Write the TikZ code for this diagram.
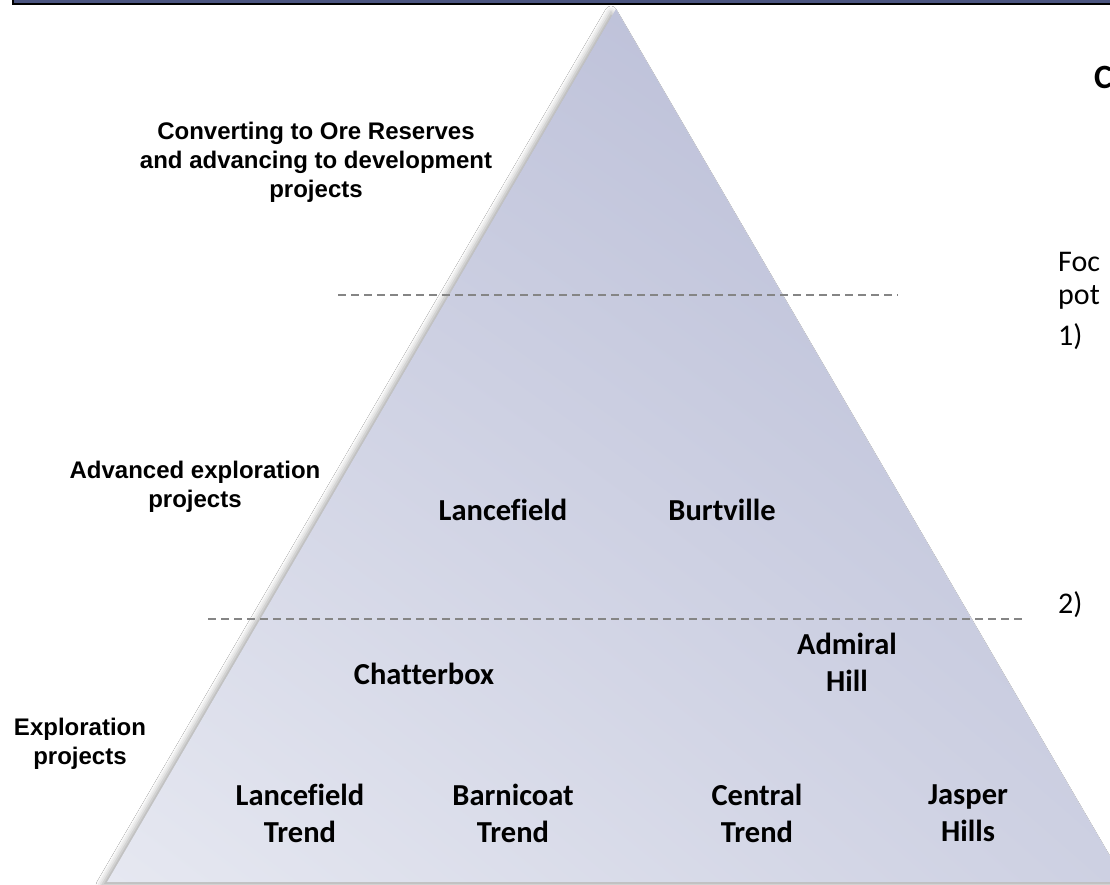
\documentclass[tikz,border=0pt]{standalone}
\usepackage{fontspec}
\setmainfont{Carlito}[Ligatures={NoCommon}]
\newfontfamily\arialfont{Liberation Sans}
\usetikzlibrary{shadows.blur,shadings}
\definecolor{barblue}{HTML}{4B5580}
\definecolor{cUL}{HTML}{C9CCE0}
\definecolor{cUR}{HTML}{B5B9D4}
\definecolor{cLL}{HTML}{E6E8F1}
\definecolor{cLR}{HTML}{CDD0E2}
\definecolor{dashgrey}{HTML}{858585}
\begin{document}
\begin{tikzpicture}[x=1pt,y=-1pt,
  lbl/.style={font=\fontsize{30.5}{37}\selectfont\bfseries, align=center, inner sep=0pt},
  side/.style={font=\arialfont\fontsize{24}{29}\selectfont\bfseries, align=center, inner sep=0pt},
  rtext/.style={font=\fontsize{30}{35}\selectfont, anchor=west, inner sep=0pt},
  divider/.style={draw=dashgrey, line width=1.5pt, dash pattern=on 7.5pt off 5.5pt}]
\useasboundingbox (0,0) rectangle (1110,885);
\clip (0,0) rectangle (1110,885);
\fill[white] (0,0) rectangle (1110,885);
% pyramid
\coordinate (apex) at (616,9);
\coordinate (bl) at (107,882);
\coordinate (br) at (1125,882);
\shade[blur shadow={shadow xshift=-5pt, shadow yshift=-3pt, shadow blur radius=6pt, shadow opacity=35},
  shading=bilinear interpolation,
  upper left=cUL, upper right=cUR, lower left=cLL, lower right=cLR]
  (apex) -- (br) -- (bl) -- cycle;
% top bar
\draw[fill=barblue, draw=black, line width=1.5pt] (13,-5) rectangle (1120,4);
% dividers
\coordinate (d1l) at (338,295);
\coordinate (d1r) at (898,295);
\coordinate (d2l) at (208,619);
\coordinate (d2r) at (1023,619);
\draw[divider] (d1l) -- (d1r);
\draw[divider] (d2l) -- (d2r);
% side labels
\node[side] (conv) at (316,162) {Converting to Ore Reserves\\and advancing to development\\projects};
\node[side] (adv) at (195,487) {Advanced exploration\\projects};
\node[side] (expl) at (80,744) {Exploration\\projects};
% project labels
\node[lbl] (lan) at (503,510) {Lancefield};
\node[lbl] (bur) at (722,510) {Burtville};
\node[lbl] (cha) at (424,674) {Chatterbox};
\node[lbl] (adm) at (847,662) {Admiral\\Hill};
\node[lbl] (lant) at (300,813) {Lancefield\\Trend};
\node[lbl] (bar) at (513,813) {Barnicoat\\Trend};
\node[lbl] (cen) at (757,813) {Central\\Trend};
\node[lbl] (jas) at (968,813) {Jasper\\Hills};
% right-hand text (cut off)
\node[rtext, font=\fontsize{34}{40}\selectfont\bfseries] (ttl) at (1094,77) {C};
\node[rtext] (foc) at (1058,262) {Foc};
\node[rtext] (pot) at (1058,297) {pot};
\node[rtext] (one) at (1058,337) {1)};
\node[rtext] (two) at (1058,605) {2)};
\end{tikzpicture}
\end{document}
